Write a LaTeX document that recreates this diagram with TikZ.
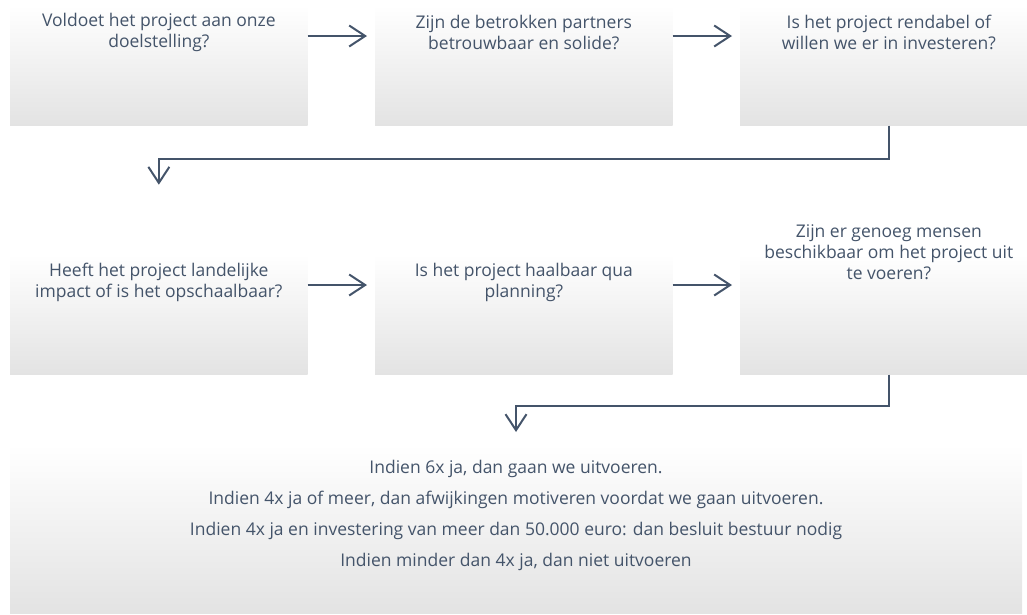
\documentclass[tikz,border=0pt]{standalone}
\usepackage{fontspec}
\setmainfont{Open Sans}
\usepackage{tikz}
\usepackage{xcolor}
\usetikzlibrary{positioning,arrows.meta}
\definecolor{tekst}{HTML}{44546A}
\definecolor{pijl}{HTML}{44546A}
\tikzstyle{stap} = [rectangle, top color=white, bottom color=black!11, minimum width=297.7pt, minimum height=120.7pt, inner sep=0pt, outer sep=0pt]
\tikzstyle{uitkomst} = [rectangle, top color=white, bottom color=black!11, minimum width=1012pt, minimum height=168pt, inner sep=0pt, outer sep=0pt]
\tikzstyle{vraag} = [text=tekst, align=center, font=\fontsize{17.5}{21}\selectfont]

\begin{document}
\begin{tikzpicture}[->,>={Straight Barb[length=16pt,width=21pt]},x=1pt,y=1pt,line width=2pt,draw=pijl]
  \useasboundingbox (0,0) rectangle (1027,-614);
  \node[stap] (b1) at (158.85,-65.35) {};
  \node[stap] (b2) [right=67.3pt of b1] {};
  \node[stap] (b3) [right=67.3pt of b2] {};
  \node[stap] (b4) [below=128.3pt of b1] {};
  \node[stap] (b5) [right=67.3pt of b4] {};
  \node[stap] (b6) [right=67.3pt of b5] {};
  \node[uitkomst, anchor=north west] (res) at ([yshift=-70.3pt]b4.south west) {};

  \node[vraag] (t1) at ([yshift=-27.5pt]b1.north) {Voldoet het project aan onze\\doelstelling?};
  \node[vraag] (t2) at ([yshift=-27.5pt]b2.north) {Zijn de betrokken partners\\betrouwbaar en solide?};
  \node[vraag] (t3) at ([yshift=-27.5pt]b3.north) {Is het project rendabel of\\willen we er in investeren?};
  \node[vraag] (t4) at ([yshift=-28.2pt]b4.north) {Heeft het project landelijke\\impact of is het opschaalbaar?};
  \node[vraag] (t5) at ([yshift=-28.2pt]b5.north) {Is het project haalbaar qua\\planning?};
  \node[vraag] (t6) at ([yshift=2.3pt]b6.north) {Zijn er genoeg mensen\\beschikbaar om het project uit\\te voeren?};
  \node[vraag, font=\fontsize{17.5}{31}\selectfont] (t7) at ([yshift=13.5pt]res.center) {Indien 6x ja, dan gaan we uitvoeren.\\Indien 4x ja of meer, dan afwijkingen motiveren voordat we gaan uitvoeren.\\Indien 4x ja en investering van meer dan 50.000 euro: dan besluit bestuur nodig\\Indien minder dan 4x ja, dan niet uitvoeren};

  \coordinate (d1) at ([yshift=69.3pt]b4.north);
  \coordinate (d2) at ([yshift=13pt]res.north);

  \draw ([yshift=29.35pt]b1.east) -- ([xshift=-8pt,yshift=29.35pt]b2.west);
  \draw ([yshift=29.35pt]b2.east) -- ([xshift=-8pt,yshift=29.35pt]b3.west);
  \draw ([yshift=29.35pt]b4.east) -- ([xshift=-8pt,yshift=29.35pt]b5.west);
  \draw ([yshift=29.35pt]b5.east) -- ([xshift=-8pt,yshift=29.35pt]b6.west);
  \draw (b3.south) -- ++(0,-33.3) -| (d1);
  \draw (b6.south) -- ++(0,-31) -| (d2);
\end{tikzpicture}
\end{document}
